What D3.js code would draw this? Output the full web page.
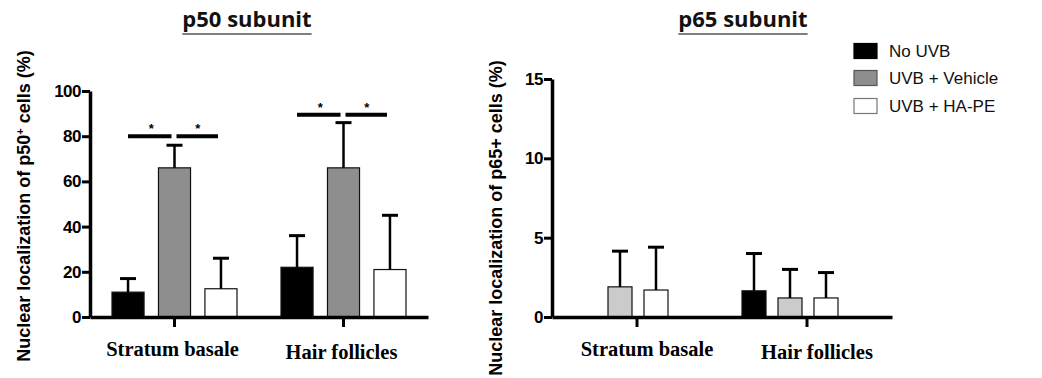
<!DOCTYPE html>
<html>
<head>
<meta charset="utf-8">
<script src="https://cdn.jsdelivr.net/npm/d3@7"></script>
<style>
  body { margin: 0; background: #fff; }
  svg { display: block; }
</style>
</head>
<body>
<div id="chart"></div>
<script>
// data
const groups = ["Stratum basale", "Hair follicles"];
const series = ["No UVB", "UVB + Vehicle", "UVB + HA-PE"];

const p50Mean = [[11, 66, 12.5], [22, 66, 21]];
const p50Err  = [[6, 10, 13.5], [14, 20, 24]];
const p50Ticks = [0, 20, 40, 60, 80, 100];
const p50Sig = [
    {group: 0, from: 0, to: 1, y: 80},
    {group: 0, from: 1, to: 2, y: 80},
    {group: 1, from: 0, to: 1, y: 89.5},
    {group: 1, from: 1, to: 2, y: 89.5}
];

const p65Mean = [[0, 1.9, 1.7], [1.65, 1.2, 1.2]];
const p65Err  = [[null, 2.25, 2.7], [2.35, 1.8, 1.6]];
const p65Ticks = [0, 5, 10, 15];

const W = 1042, H = 378;

const svg = d3.select("#chart").append("svg")
    .attr("width", W)
    .attr("height", H);

function drawPanel(cfg){
    const g = svg.append("g").attr("class", cfg.name);

    const x = d3.scaleBand()
        .domain(groups)
        .range(cfg.xRange)
        .padding(0);

    const xInner = d3.scaleBand()
        .domain(series)
        .range(cfg.innerRange)
        .paddingInner(cfg.innerPad);

    const y = d3.scaleLinear()
        .domain(cfg.yDomain)
        .range(cfg.yRange);

    const center = (gi, si) => x(groups[gi]) + x.bandwidth()/2 + xInner(series[si]) + xInner.bandwidth()/2;

    // bars
    const rows = [];
    cfg.mean.forEach((vals, gi) => vals.forEach((v, si) => {
        rows.push({gi, si, v, e: cfg.err[gi][si]});
    }));

    g.selectAll(".bar")
        .data(rows.filter(d => d.v > 0))
        .join("rect")
        .attr("class", "bar")
        .attr("x", d => center(d.gi, d.si) - xInner.bandwidth()/2)
        .attr("width", xInner.bandwidth())
        .attr("y", d => y(d.v))
        .attr("height", d => y(0) - y(d.v))
        .attr("fill", d => cfg.fills[d.si])
        .attr("stroke", "#111")
        .attr("stroke-width", 1.2);

    // error bars (upper half only)
    const errs = rows.filter(d => d.e != null);
    g.selectAll(".errV")
        .data(errs)
        .join("line")
        .attr("class", "errV")
        .attr("x1", d => center(d.gi, d.si))
        .attr("x2", d => center(d.gi, d.si))
        .attr("y1", d => y(d.v))
        .attr("y2", d => y(d.v + d.e))
        .attr("stroke", "#000")
        .attr("stroke-width", 2.5);

    g.selectAll(".errCap")
        .data(errs)
        .join("line")
        .attr("class", "errCap")
        .attr("x1", d => center(d.gi, d.si) - cfg.cap)
        .attr("x2", d => center(d.gi, d.si) + cfg.cap)
        .attr("y1", d => y(d.v + d.e))
        .attr("y2", d => y(d.v + d.e))
        .attr("stroke", "#000")
        .attr("stroke-width", 3);

    // significance bars
    g.selectAll(".sig")
        .data(cfg.sig)
        .join("line")
        .attr("class", "sig")
        .attr("x1", d => center(d.group, d.from) + (d.from === 0 ? 0 : 2))
        .attr("x2", d => center(d.group, d.to) - 3)
        .attr("y1", d => y(d.y))
        .attr("y2", d => y(d.y))
        .attr("stroke", "#000")
        .attr("stroke-width", 4);

    g.selectAll(".star")
        .data(cfg.sig)
        .join("text")
        .attr("class", "star")
        .attr("x", d => (center(d.group, d.from) + center(d.group, d.to))/2)
        .attr("y", d => y(d.y) - 3)
        .attr("text-anchor", "middle")
        .style("font-family", "Liberation Sans, Arial, sans-serif")
        .style("font-weight", "bold")
        .style("font-size", "13px")
        .text("*");

    // axes
    const yAxis = g.append("g")
        .attr("transform", `translate(${cfg.xRange[0]},0)`)
        .call(d3.axisLeft(y).tickValues(cfg.ticks).tickSize(8).tickSizeOuter(0).tickPadding(1));

    yAxis.select(".domain").attr("stroke-width", 3.5);
    yAxis.selectAll(".tick line").attr("stroke-width", 3);
    yAxis.selectAll(".tick text")
        .style("font-family", "Liberation Sans, Arial, sans-serif")
        .style("font-weight", "bold")
        .style("font-size", cfg.tickFont)
        .style("letter-spacing", "-0.5px")
        .attr("fill", "#000");

    const xAxis = g.append("g")
        .attr("transform", `translate(0,${cfg.yRange[0]})`)
        .call(d3.axisBottom(x).tickSize(10).tickSizeOuter(0).tickPadding(13));

    xAxis.select(".domain").attr("stroke-width", 3.5);
    xAxis.selectAll(".tick line").attr("stroke-width", 3);
    xAxis.selectAll(".tick text")
        .attr("dx", cfg.labelDx)
        .attr("dy", (d, i) => i === 1 ? "0.95em" : "0.8em")
        .style("font-family", "Liberation Serif, Times New Roman, serif")
        .style("font-weight", "bold")
        .style("font-size", "20.5px")
        .attr("fill", "#000");

    // y label
    const yl = g.append("text")
        .attr("transform", `translate(${cfg.yLabelX},${cfg.yLabelY}) rotate(-90)`)
        .attr("text-anchor", "middle")
        .style("font-family", "Liberation Sans, Arial, sans-serif")
        .style("font-weight", "bold")
        .style("font-size", cfg.labelFont);
    yl.append("tspan").text(cfg.yLabel[0]);
    if (cfg.yLabel[1]){
        yl.append("tspan")
            .attr("baseline-shift", "super")
            .style("font-size", "11px")
            .text(cfg.yLabel[1]);
    }
    yl.append("tspan").text(cfg.yLabel[2]);

    // title with underline
    const t = g.append("text")
        .attr("x", cfg.titleX)
        .attr("y", 27)
        .attr("text-anchor", "middle")
        .style("font-family", "Open Sans, sans-serif")
        .style("font-weight", "bold")
        .style("font-size", "22px")
        .attr("fill", "#111")
        .text(cfg.title);
    const tw = t.node().getComputedTextLength();
    g.append("line")
        .attr("x1", cfg.titleX - tw/2)
        .attr("x2", cfg.titleX + tw/2)
        .attr("y1", 34)
        .attr("y2", 34)
        .attr("stroke", "#555")
        .attr("stroke-width", 1.5);
}

drawPanel({
    name: "p50",
    mean: p50Mean,
    err: p50Err,
    sig: p50Sig,
    ticks: p50Ticks,
    xRange: [90, 428],
    innerRange: [-62.5, 62.5],
    innerPad: 0.31,
    yDomain: [0, 100],
    yRange: [317, 91],
    fills: ["#000", "#8e8e8e", "#fff"],
    cap: 8,
    tickFont: "17px",
    labelFont: "18px",
    labelDx: -2,
    yLabel: ["Nuclear localization of p50", "+", " cells (%)"],
    yLabelX: 30,
    yLabelY: 206,
    title: "p50 subunit",
    titleX: 247
});

drawPanel({
    name: "p65",
    mean: p65Mean,
    err: p65Err,
    sig: [],
    ticks: p65Ticks,
    xRange: [552, 892],
    innerRange: [-65, 31],
    innerPad: 0.333,
    yDomain: [0, 15],
    yRange: [317, 79],
    fills: ["#000", "#cbcbcb", "#fff"],
    cap: 8,
    tickFont: "17px",
    labelFont: "18px",
    labelDx: 10,
    yLabel: ["Nuclear localization of p65+ cells (%)", null, ""],
    yLabelX: 502,
    yLabelY: 218,
    title: "p65 subunit",
    titleX: 743
});

// legend
const legendFill = ["#000", "#8e8e8e", "#fff"];
const legendStroke = ["#000", "#555", "#777"];
const legendY = [51, 78, 106];

const lg = svg.append("g").attr("class", "legend");
lg.selectAll("rect")
    .data(series)
    .join("rect")
    .attr("x", 854)
    .attr("y", (d, i) => legendY[i] - 7.5)
    .attr("width", 23)
    .attr("height", 15)
    .attr("fill", (d, i) => legendFill[i])
    .attr("stroke", (d, i) => legendStroke[i])
    .attr("stroke-width", 1.2);

lg.selectAll("text")
    .data(series)
    .join("text")
    .attr("x", 889)
    .attr("y", (d, i) => legendY[i])
    .attr("dy", "0.35em")
    .style("font-family", "Liberation Sans, Arial, sans-serif")
    .style("font-size", "17px")
    .attr("fill", "#111")
    .text(d => d);
</script>
</body>
</html>
